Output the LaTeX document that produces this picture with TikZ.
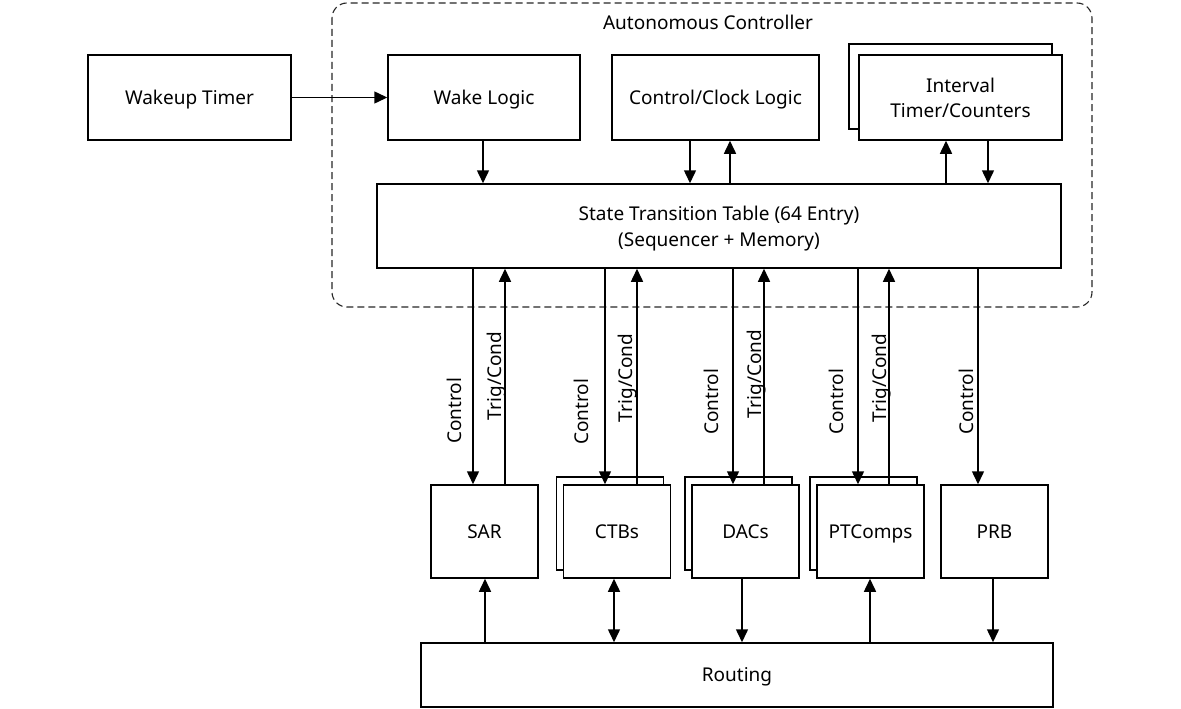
\documentclass[tikz,border=0pt]{standalone}
\usepackage{fontspec}
\setmainfont{Noto Sans}
\usetikzlibrary{arrows.meta}
\tikzset{block/.style={draw,fill=white,line width=1.5pt,
                       text badly centered,inner sep=0pt}}
\tikzset{onerow/.style={text height=13.6pt,text depth=0pt}}
\tikzset{topblock/.style={block,minimum height=85pt}}
\tikzset{periph/.style={block,onerow,minimum width=107pt,minimum height=93pt}}
\tikzset{sig/.style={-{Triangle[length=13pt,width=12pt]},line width=1.5pt}}
\tikzset{bisig/.style={{Triangle[length=13pt,width=12pt]}-{Triangle[length=13pt,width=12pt]},line width=1.5pt}}
\tikzset{lbl/.style={rotate=90,anchor=base,inner sep=0pt}}
\tikzset{group/.style={draw=black!85,line width=1.1pt,dash pattern=on 7pt off 4pt,
                       rounded corners=15pt}}

\begin{document}
\begin{tikzpicture}[x=1pt,y=-1pt,font=\fontsize{19}{26}\selectfont]
    \useasboundingbox (0,0) rectangle (1181,709);
    % Autonomous controller frame
    \draw[group] (332,3) rectangle (1092,307);
    \node (title) at (708,22) {Autonomous Controller};
    % Top row of blocks
    \node[topblock, onerow, minimum width=203pt] (wakeup) at (189.5,97.5) {Wakeup Timer};
    \node[topblock, onerow, minimum width=192pt] (wake) at (484,97.5) {Wake Logic};
    \node[topblock, onerow, minimum width=207pt] (clock) at (715.5,97.5) {Control/Clock Logic};
    \node[topblock, minimum width=203pt] (timerback) at (950.5,86.5) {};
    \node[topblock, minimum width=203pt, align=center] (timer) at (960.5,97.5)
        {Interval\\[-1pt]Timer/Counters};
    % State transition table
    \node[block, minimum width=684pt, minimum height=84pt, align=center,
          text depth=0pt] (stt)
        at (719,226) {State Transition Table (64 Entry)\\(Sequencer + Memory)};
    % Peripheral blocks, stacked ones get a copy behind them
    \foreach \b/\xb in {ctbs/617,dacs/745.5,ptc/870.5}{%
          \node[periph] (\b back) at (\xb-7,523.5) {};
        }
    \foreach \b/\xb/\t in {sar/484.5/SAR,ctbs/617/CTBs,dacs/745.5/DACs,
                           ptc/870.5/PTComps,prb/994.5/PRB}{%
          \node[periph] (\b) at (\xb,531.5) {\t};
        }
    % Routing
    \node[block, onerow, minimum width=632pt, minimum height=64pt] (routing)
        at (737,675) {Routing};
    % Edges in the top row
    \draw[sig] (wakeup) -- (wake);
    \draw[sig] (483,0 |- wake.south) -- (483,0 |- stt.north);
    \draw[sig] (690,0 |- clock.south) -- (690,0 |- stt.north);
    \draw[sig] (730,0 |- stt.north) -- (730,0 |- clock.south);
    \draw[sig] (946,0 |- stt.north) -- (946,0 |- timer.south);
    \draw[sig] (988,0 |- timer.south) -- (988,0 |- stt.north);
    % Control and Trig/Cond edges
    \foreach \b/\xc/\xt in {sar/473/505,ctbs/605/637,dacs/733/764,ptc/858/889}{%
          \draw[sig] (\xc,0 |- stt.south) -- (\xc,0 |- \b.north);
          \draw[sig] (\xt,0 |- \b.north) -- (\xt,0 |- stt.south);
        }
    \draw[sig] (978,0 |- stt.south) -- (978,0 |- prb.north);
    % Labels on the vertical edges
    \foreach \xl/\yl [count=\li] in {461/411,588/412,718/402,843/402,973/402}{%
          \node[lbl] (ctl\li) at (\xl,\yl) {Control};
        }
    \foreach \xl/\yl [count=\li] in {501/376,632/378,761/374,886/378}{%
          \node[lbl] (trg\li) at (\xl,\yl) {Trig/Cond};
        }
    % Edges to routing
    \draw[sig] (485,0 |- routing.north) -- (485,0 |- sar.south);
    \draw[bisig] (614,0 |- ctbs.south) -- (614,0 |- routing.north);
    \draw[sig] (742,0 |- dacs.south) -- (742,0 |- routing.north);
    \draw[sig] (870,0 |- routing.north) -- (870,0 |- ptc.south);
    \draw[sig] (993,0 |- prb.south) -- (993,0 |- routing.north);
\end{tikzpicture}
\end{document}
